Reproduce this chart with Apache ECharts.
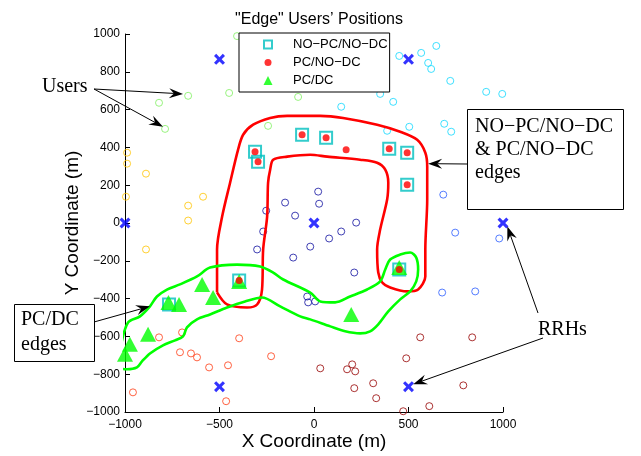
<!DOCTYPE html>
<html><head><meta charset="utf-8">
<script src="https://cdn.jsdelivr.net/npm/echarts@6/dist/echarts.min.js"></script>
<style>html,body{margin:0;padding:0;background:#fff}#c{width:641px;height:456px}</style>
</head><body><div id="c"></div>
<script>
const xTickValues = [-1000, -500, 0, 500, 1000];
const yTickStep = 200;
const rrhs = [[-500, 866], [500, 866], [-1000, 0], [0, 0], [1000, 0], [-500, -866], [500, -866]];
const usersGreen  = [[-407, 989], [-666, 673], [-820, 636], [-788, 498], [-449, 688], [-84, 667], [-243, 514]];
const usersCyan   = [[451, 884], [567, 900], [647, 937], [604, 847], [620, 815], [721, 752], [911, 694], [996, 683],
                     [350, 683], [419, 641], [144, 615], [504, 509], [387, 488], [689, 525], [726, 483]];
const usersYellow = [[-989, 372], [-989, 314], [-889, 261], [-995, 139], [-666, 92], [-587, 139], [-666, 13], [-889, -140]];
const usersNavy   = [[22, 166], [27, 102], [-153, 108], [-253, 65], [-100, 39], [-269, -45], [223, 2], [144, -45],
                     [80, -82], [-20, -125], [-301, -140], [-110, -183], [213, -262], [-36, -389], [-31, -420], [6, -415]];
const usersBlue   = [[684, 150], [747, -51], [980, -82], [1002, -199], [678, -368], [853, -362]];
const usersOrange = [[-820, -605], [-698, -579], [-709, -684], [-651, -690], [-619, -711], [-555, -764], [-455, -753],
                     [-396, -610], [-227, -705], [-958, -896], [-465, -943]];
const usersMaroon = [[562, -605], [837, -605], [488, -716], [33, -769], [175, -774], [202, -748], [218, -785],
                     [313, -848], [213, -874], [329, -927], [790, -859], [610, -969], [472, -996]];
const noPcNoDc = [[-312, 377], [-296, 324], [-63, 467], [64, 451], [398, 393], [493, 372], [493, 203], [451, -246], [-396, -304], [-767, -431]];
const pcNoDc   = [[-312, 377], [-296, 324], [-63, 467], [64, 451], [170, 388], [398, 393], [493, 372], [493, 203], [451, -246], [-396, -304]];
const pcDc     = [[-770, -420], [-714, -431], [-592, -325], [-534, -394], [-878, -589], [-974, -642], [-1000, -695], [-396, -309], [197, -484], [451, -236]];
const redEdge = [[-513, -367], [-513, -140], [-486, 34], [-444, 213], [-402, 387], [-375, 467], [-322, 520], [-232, 556],
  [-142, 567], [33, 567], [154, 556], [334, 520], [456, 483], [546, 440], [589, 372], [599, 298], [599, 124], [589, -140],
  [589, -283], [551, -352], [493, -362], [403, -341], [361, -315], [340, -262], [334, -140], [350, -35], [387, 124],
  [393, 213], [377, 282], [334, 319], [244, 335], [70, 351], [-20, 361], [-142, 351], [-216, 335], [-232, 282],
  [-243, 213], [-248, 34], [-269, -140], [-275, -352], [-301, -431], [-354, -447], [-460, -431], [-513, -367]];
const greenEdge = [[-1020, -642], [-984, -526], [-921, -494], [-868, -441], [-831, -389], [-778, -352], [-709, -325],
  [-619, -283], [-550, -236], [-407, -220], [-285, -230], [-216, -262], [-163, -299], [-20, -368], [33, -415], [112, -420],
  [191, -389], [281, -352], [350, -309], [377, -246], [403, -193], [456, -167], [509, -156], [541, -183], [551, -246],
  [541, -309], [509, -362], [456, -404], [393, -468], [340, -536], [297, -573], [244, -584], [165, -573], [86, -547],
  [-20, -510], [-73, -494], [-179, -441], [-275, -394], [-365, -415], [-460, -447], [-550, -484], [-619, -510],
  [-672, -552], [-693, -600], [-735, -621], [-799, -647], [-868, -690], [-910, -732], [-937, -764], [-989, -774],
  [-1020, -764], [-1020, -642]];
// annotation arrow tips (data coordinates)
const tipUsers1 = [-693, 683], tipUsers2 = [-799, 509];
const tipRedBox = [604, 314], tipGreenBox = [-868, -441];
const tipRrh1 = [1023, -19], tipRrh2 = [525, -853];

const SANS = 'Liberation Sans', SERIF = 'Liberation Serif';
const minus = v => String(v).replace('-', '\u2212');
const chart = echarts.init(document.getElementById('c'), null, {renderer: 'canvas'});
function users(data, c) {
  return {type: 'scatter', data, symbol: 'circle', symbolSize: 7, silent: true, z: 2,
    itemStyle: {color: 'rgba(0,0,0,0)', borderColor: c, borderWidth: 1}};
}
const xPath = 'path://M0,2L2,0L5,3L8,0L10,2L7,5L10,8L8,10L5,7L2,10L0,8L3,5Z';
chart.setOption({
  animation: false,
  backgroundColor: '#fff',
  title: {text: '"Edge" Users\u2019 Positions', left: 314, textAlign: 'center', top: 7,
    textStyle: {fontFamily: SANS, fontSize: 16, fontWeight: 'normal', color: '#000'}},
  grid: {left: 125, right: 138, top: 34, bottom: 44, containLabel: false, outerBoundsMode: 'none'},
  xAxis: {type: 'value', min: -1000, max: 1000, interval: 500,
    axisLine: {show: true, onZero: false, lineStyle: {color: '#000', width: 1}},
    axisTick: {show: true, inside: true, length: 5, lineStyle: {color: '#000'}},
    axisLabel: {color: '#000', fontSize: 12, fontFamily: SANS, margin: 7, formatter: v => xTickValues.includes(v) ? minus(v) : ''},
    splitLine: {show: false},
    name: 'X Coordinate (m)', nameLocation: 'middle', nameGap: 20, nameMoveOverlap: false,
    nameTextStyle: {fontSize: 19, fontFamily: SANS, color: '#000', verticalAlign: 'top'}},
  yAxis: {type: 'value', min: -1000, max: 1000, interval: yTickStep,
    axisLine: {show: true, onZero: false, lineStyle: {color: '#000', width: 1}},
    axisTick: {show: true, inside: true, length: 5, lineStyle: {color: '#000'}},
    axisLabel: {color: '#000', fontSize: 12, fontFamily: SANS, margin: 5, formatter: minus},
    splitLine: {show: false},
    name: 'Y Coordinate (m)', nameLocation: 'middle', nameGap: 43, nameMoveOverlap: false,
    nameTextStyle: {fontSize: 19, fontFamily: SANS, color: '#000'}},
  legend: {orient: 'vertical', left: 239, top: 33, padding: [5, 2, 5, 23], itemWidth: 40, itemHeight: 10, itemGap: 5,
    borderColor: '#000', borderWidth: 1, backgroundColor: '#fff', selectedMode: false,
    textStyle: {fontSize: 13, fontFamily: SANS, color: '#000', lineHeight: 13},
    data: [
      {name: 'NO\u2212PC/NO\u2212DC', icon: 'path://M0,0M10,10M1,1L9,1L9,9L1,9Z', itemStyle: {color: 'rgba(0,0,0,0)', borderColor: '#00bfbf', borderWidth: 2}},
      {name: 'PC/NO\u2212DC', icon: 'path://M0,0M10,10M8.5,5A3.5,3.5,0,1,1,1.5,5A3.5,3.5,0,1,1,8.5,5Z', itemStyle: {color: '#ff0000', borderWidth: 0}},
      {name: 'PC/DC', icon: 'path://M0,0M10,10M5,0.5L9.5,9.5L0.5,9.5Z', itemStyle: {color: '#00ff00', borderWidth: 0}}
    ]},
  series: [
    users(usersGreen, '#80f060'), users(usersCyan, '#10d8ff'), users(usersYellow, '#ffc400'),
    users(usersNavy, '#1010a0'), users(usersBlue, '#2a5cff'), users(usersOrange, '#ff3c14'), users(usersMaroon, '#960000'),
    {type: 'line', data: redEdge, showSymbol: false, smooth: 0.3, silent: true, z: 3,
      lineStyle: {color: '#ff0000', width: 2.6}},
    {type: 'line', data: greenEdge, showSymbol: false, smooth: 0.3, silent: true, z: 3,
      lineStyle: {color: '#00ff00', width: 2.6}},
    {name: 'NO\u2212PC/NO\u2212DC', type: 'scatter', data: noPcNoDc, symbol: 'rect', symbolSize: 12, z: 4, silent: true,
      itemStyle: {color: 'rgba(0,0,0,0)', borderColor: '#00bfbf', borderWidth: 2}},
    {name: 'PC/DC', type: 'scatter', data: pcDc, symbol: 'triangle', symbolSize: [16, 15], z: 5, silent: true,
      itemStyle: {color: '#00ff00'}},
    {name: 'PC/NO\u2212DC', type: 'scatter', data: pcNoDc, symbol: 'circle', symbolSize: 7, z: 6, silent: true,
      itemStyle: {color: '#ff0000'}},
    {type: 'scatter', data: rrhs, symbol: xPath, symbolSize: 11, z: 7, silent: true, itemStyle: {color: '#0000ff'}}
  ]
});

// ---------- annotations ----------
const px = p => chart.convertToPixel({gridIndex: 0}, p);
function arrow(x1, y1, tip) {
  const [x2, y2] = px(tip);
  const dx = x2 - x1, dy = y2 - y1, L = Math.hypot(dx, dy), ux = dx / L, uy = dy / L, nx = -uy, ny = ux;
  const hl = 14, hw = 5;
  const bx = x2 - ux * hl, by = y2 - uy * hl, mx = x2 - ux * hl * 0.65, my = y2 - uy * hl * 0.65;
  return [
    {type: 'line', z: 100, shape: {x1, y1, x2: mx, y2: my}, style: {stroke: '#000', lineWidth: 1}},
    {type: 'polygon', z: 100, shape: {points: [[x2, y2], [bx + nx * hw, by + ny * hw], [mx, my], [bx - nx * hw, by - ny * hw]]}, style: {fill: '#000'}}
  ];
}
const txt = (t, x, y) => ({type: 'text', z: 101, x, y, style: {text: t, font: '20px "' + SERIF + '"', fill: '#000', verticalAlign: 'middle', align: 'left'}});
const g = [];
g.push(txt('Users', 42, 87));
g.push(...arrow(94, 89, tipUsers1), ...arrow(94, 89, tipUsers2));
g.push({type: 'rect', z: 99, shape: {x: 467.5, y: 109.5, width: 156, height: 100}, style: {fill: '#fff', stroke: '#000', lineWidth: 1}});
g.push(txt('NO\u2212PC/NO\u2212DC', 475, 127), txt('& PC/NO\u2212DC', 475, 150), txt('edges', 475, 173));
g.push(...arrow(467, 164, tipRedBox));
g.push({type: 'rect', z: 99, shape: {x: 14.5, y: 304.5, width: 80, height: 57}, style: {fill: '#fff', stroke: '#000', lineWidth: 1}});
g.push(txt('PC/DC', 21, 320), txt('edges', 21, 345));
g.push(...arrow(94, 322, tipGreenBox));
g.push(txt('RRHs', 538, 330));
g.push(...arrow(538, 313, tipRrh1), ...arrow(543, 338, tipRrh2));
chart.setOption({graphic: g});
</script></body></html>
